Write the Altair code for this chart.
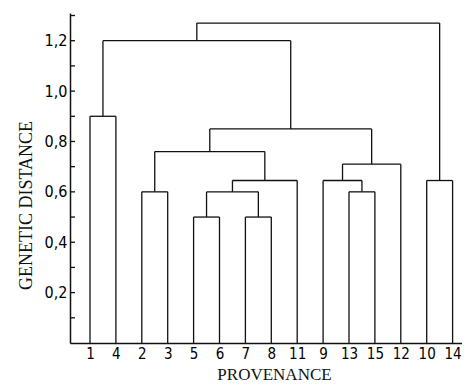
import altair as alt
import pandas as pd

# Leaf order along the x axis
leaves = ["1", "4", "2", "3", "5", "6", "7", "8", "11", "9", "13", "15", "12", "10", "14"]

# Agglomeration steps: cluster name, left child, right child, genetic distance
merge_names = ["M1", "M2", "M3", "M4", "M5", "M6", "M7", "M8", "M9", "M10", "M11", "M12", "M13", "M14"]
merge_left = ["1", "5", "7", "M2", "M4", "2", "M6", "13", "9", "M9", "M7", "M1", "10", "M12"]
merge_right = ["4", "6", "8", "M3", "11", "3", "M5", "15", "M8", "12", "M10", "M11", "14", "M13"]
merge_height = [0.90, 0.50, 0.50, 0.60, 0.645, 0.60, 0.76, 0.60, 0.645, 0.71, 0.85, 1.20, 0.645, 1.27]

y_ticks = [0.1, 0.2, 0.3, 0.4, 0.5, 0.6, 0.7, 0.8, 0.9, 1.0, 1.1, 1.2, 1.3]
y_labels = [0.2, 0.4, 0.6, 0.8, 1.0, 1.2]

# Build dendrogram segments
pos = {name: float(i) for i, name in enumerate(leaves)}
hgt = {name: 0.0 for name in leaves}
rows = []
for n, a, b, h in zip(merge_names, merge_left, merge_right, merge_height):
    xa, xb = pos[a], pos[b]
    rows.append({"x": xa, "x2": xa, "y": hgt[a], "y2": h})
    rows.append({"x": xb, "x2": xb, "y": hgt[b], "y2": h})
    rows.append({"x": xa, "x2": xb, "y": h, "y2": h})
    pos[n] = (xa + xb) / 2
    hgt[n] = h
seg = pd.DataFrame(rows)

label_arr = "[" + ",".join("'%s'" % s for s in leaves) + "]"

xscale = alt.Scale(domain=[-0.772, 14.363], nice=False, zero=False)
yscale = alt.Scale(domain=[0, 1.31], nice=False, zero=True)

tick_font = "DejaVu Sans Condensed"

lines = alt.Chart(seg).mark_rule(color="#111111", strokeWidth=1.3).encode(
    x=alt.X("x:Q", scale=xscale,
            axis=alt.Axis(values=list(range(len(leaves))), labelExpr=label_arr + "[datum.value]",
                          title="PROVENANCE", tickSize=0, grid=False, domainColor="#111111",
                          domainWidth=1.5, labelFont=tick_font, labelFontSize=15,
                          labelColor="#000000", labelPadding=3, labelBaseline="top",
                          labelFlush=False, labelOverlap=False,
                          titleFont="Liberation Serif", titleFontSize=17, titleFontWeight="normal",
                          titleColor="#111111", titleX=204, titleY=36.5, titleBaseline="alphabetic",
                          titleAlign="center")),
    x2="x2:Q",
    y=alt.Y("y:Q", scale=yscale,
            axis=alt.Axis(values=y_labels, labelExpr="replace(format(datum.value, '.1f'), '.', ',')",
                          title="GENETIC DISTANCE", tickSize=0, grid=False, domainColor="#111111",
                          domainWidth=1.5, labelFont=tick_font, labelFontSize=16,
                          labelColor="#000000", labelPadding=3,
                          titleFont="Liberation Serif", titleFontSize=18, titleFontWeight="normal",
                          titleColor="#111111", titleX=-39, titleY=192, titleAngle=270,
                          titleBaseline="alphabetic", titleAlign="center")),
    y2="y2:Q",
)

ticks = alt.Chart(pd.DataFrame({"v": y_ticks})).mark_rule(color="#111111", strokeWidth=1.3).encode(
    y=alt.Y("v:Q", scale=yscale),
    x=alt.value(0),
    x2=alt.value(5),
)

chart = alt.layer(lines, ticks).properties(
    width=392, height=330,
    autosize=alt.AutoSizeParams(type="none"),
    padding={"left": 62, "top": 5, "right": 0, "bottom": 41},
).configure_view(stroke=None)

chart.save("out.html", embed_options={"renderer": "svg", "actions": False})
